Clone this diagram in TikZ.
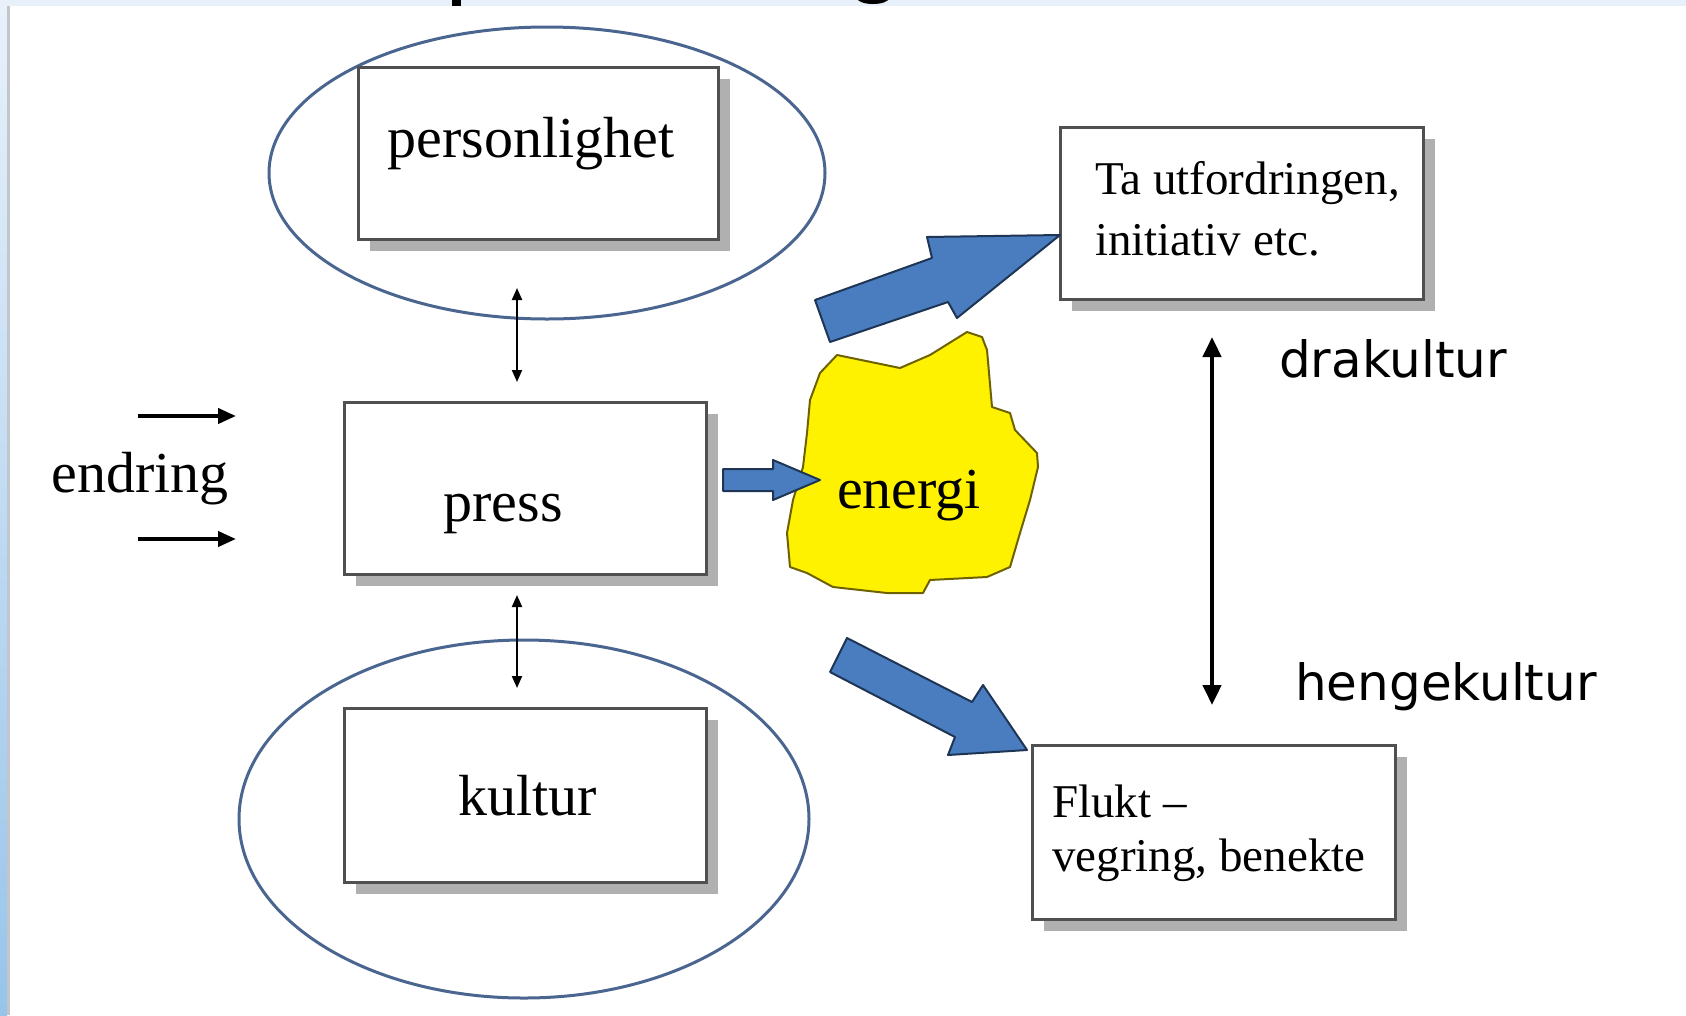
\documentclass[tikz,border=0pt]{standalone}
\usepackage{fontspec}
\setmainfont{Liberation Serif}
\newfontfamily\dejavu{DejaVu Sans}
\usetikzlibrary{shapes.geometric,arrows.meta,shadows}
\definecolor{ellcol}{HTML}{4A6690}
\definecolor{arrfill}{HTML}{4A7DBF}
\definecolor{arredge}{HTML}{1E3555}
\definecolor{blobfill}{HTML}{FFF200}
\definecolor{blobedge}{HTML}{6E6200}
\definecolor{boxedge}{HTML}{505050}
\definecolor{shadowcol}{HTML}{B0B0B0}
\definecolor{stripA}{HTML}{E8F1FA}
\definecolor{stripB}{HTML}{98C4EA}
\definecolor{greyline}{HTML}{C0C6CC}
\begin{document}
\begin{tikzpicture}[x=1pt,y=-1pt,
  box/.style={rectangle, draw=boxedge, line width=3pt, fill=white, inner sep=0pt,
    drop shadow={shadow xshift=12pt, shadow yshift=-12pt, fill=shadowcol, opacity=1}},
  ell/.style={ellipse, draw=ellcol, line width=3pt, inner sep=0pt},
  big/.style={font=\fontsize{58}{60}\selectfont, inner sep=0pt, anchor=base},
  sml/.style={font=\fontsize{47}{50}\selectfont, inner sep=0pt, anchor=base west},
  sans/.style={font=\dejavu\fontsize{50}{52}\selectfont, inner sep=0pt, anchor=base},
  thinarr/.style={line width=2pt, arrows={Triangle[length=12pt,width=10pt]-Triangle[length=12pt,width=10pt]}},
  fatarr/.style={line width=4pt, arrows={-Triangle[length=18pt,width=15pt]}},
  bigdbl/.style={line width=4.5pt, arrows={Triangle[length=20pt,width=18pt]-Triangle[length=20pt,width=18pt]}},
  block/.style={fill=arrfill, draw=arredge, line width=2pt, line join=round},
  blob/.style={fill=blobfill, draw=blobedge, line width=2pt, line join=round}]
% background
\fill[white] (0,0) rectangle (1686,1015);
\useasboundingbox (0,0) rectangle (1686,1015);
\fill[stripA] (0,0) rectangle (1686,6);
\shade[top color=stripA, bottom color=stripB] (0,6) rectangle (7,1015);
\fill[greyline] (7,6) rectangle (10,1015);
% title fragments
\fill[black] (452,0) rectangle (461,6);
\begin{scope}
\clip (840,0) rectangle (900,6);
\fill[black] (873,-2) ellipse [x radius=16, y radius=6];
\end{scope}
% ellipses
\node[ell, minimum width=556pt, minimum height=292pt] (elltop) at (547,173) {};
\node[ell, minimum width=570pt, minimum height=358pt] (ellbot) at (524,819) {};
% boxes
\node[box, minimum width=360pt, minimum height=172pt] (pers) at (538,153) {};
\node[box, minimum width=362pt, minimum height=172pt] (press) at (525,488) {};
\node[box, minimum width=362pt, minimum height=174pt] (kult) at (525,795) {};
\node[box, minimum width=363pt, minimum height=172pt] (ta) at (1241.5,213) {};
\node[box, minimum width=363pt, minimum height=174pt] (flukt) at (1213.5,832) {};
% labels
\node[big] (tpers) at (531,157) {personlighet};
\node[big] (tpress) at (503,521) {press};
\node[big] (tkult) at (528,815) {kultur};
\node[big] (tend) at (140,492) {endring};
\node[sml] (tta1) at (1095,194) {Ta utfordringen,};
\node[sml] (tta2) at (1095,255) {initiativ etc.};
\node[sml] (tfl1) at (1052,817) {Flukt –};
\node[sml] (tfl2) at (1052,871) {vegring, benekte};
\node[sans] (tdrak) at (1393,377) {drakultur};
\node[sans] (theng) at (1446,700) {hengekultur};
% small double arrows
\coordinate (a1) at (517,288); \coordinate (a2) at (517,382);
\coordinate (b1) at (517,595); \coordinate (b2) at (517,688);
\draw[thinarr] (a1) -- (a2);
\draw[thinarr] (b1) -- (b2);
% endring arrows
\coordinate (e1) at (138,416); \coordinate (e2) at (236,416);
\coordinate (f1) at (138,539); \coordinate (f2) at (236,539);
\draw[fatarr] (e1) -- (e2);
\draw[fatarr] (f1) -- (f2);
% big vertical double arrow
\coordinate (v1) at (1212,337); \coordinate (v2) at (1212,705);
\draw[bigdbl] (v1) -- (v2);
% energi blob
\draw[blob] (837,355) -- (900,368) -- (930,355) -- (967,332) -- (982,337) -- (987,350)
  -- (992,407) -- (1010,413) -- (1015,430) -- (1037,453) -- (1038,467) -- (1030,500)
  -- (1020,533) -- (1010,567) -- (987,577) -- (930,580) -- (923,593) -- (887,593)
  -- (833,587) -- (807,573) -- (790,567) -- (787,533) -- (793,500) -- (803,467)
  -- (807,433) -- (810,400) -- (820,373) -- cycle;
\node[big] (tenergi) at (909,508) {energi};
% block arrows
\draw[block] (723,469) -- (773,469) -- (773,460) -- (820,480) -- (773,500) -- (773,491) -- (723,491) -- cycle;
\draw[block] (830,342) -- (948,302) -- (957,318) -- (1060,235) -- (927,237) -- (932,258) -- (815,300) -- cycle;
\draw[block] (847,638) -- (972,702) -- (983,685) -- (1027,750) -- (948,755) -- (955,737) -- (830,672) -- cycle;
\end{tikzpicture}
\end{document}
